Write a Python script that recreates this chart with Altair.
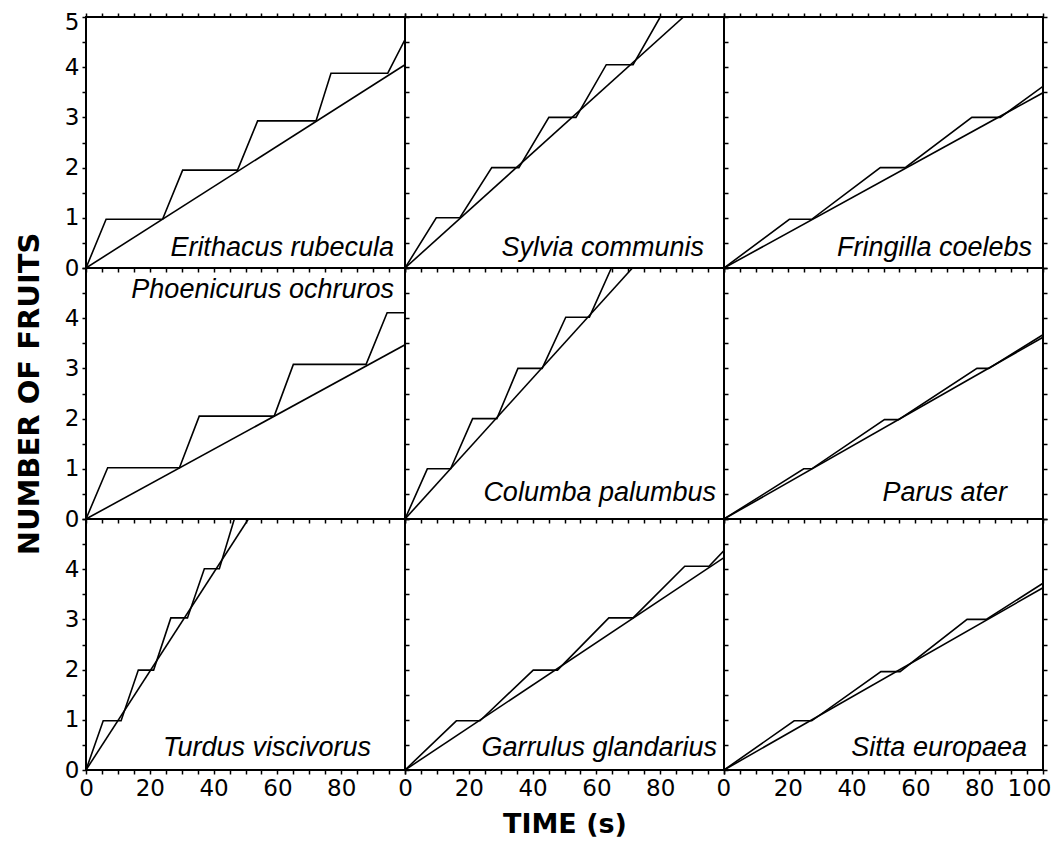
import altair as alt
import pandas as pd

species = ["Erithacus rubecula", "Sylvia communis", "Fringilla coelebs",
           "Phoenicurus ochruros", "Columba palumbus", "Parus ater",
           "Turdus viscivorus", "Garrulus glandarius", "Sitta europaea"]

# cumulative fruit count (step curves), time in s
step_x = [
    [0, 6.3, 24.0, 30.3, 47.5, 53.8, 72.1, 76.8, 94.6, 100],
    [0, 9.8, 17.2, 27.2, 35.7, 45.1, 53.6, 63.1, 71.5, 80.0],
    [0, 20.5, 27.5, 49.0, 56.8, 77.7, 86.6, 100],
    [0, 6.8, 29.3, 35.5, 59.0, 65.0, 87.8, 94.4, 100],
    [0, 7.0, 14.3, 21.2, 28.8, 35.4, 43.0, 50.4, 57.8, 64.7],
    [0, 25.0, 27.5, 50.3, 54.7, 79.3, 83.0, 100],
    [0, 5.4, 11.0, 16.4, 21.2, 26.6, 31.8, 37.1, 41.8, 46.5],
    [0, 16.1, 23.5, 40.2, 47.8, 63.9, 71.5, 87.7, 95.3, 100],
    [0, 22.0, 27.5, 49.2, 55.2, 76.2, 82.2, 100],
]
step_y = [
    [0, 0.97, 0.97, 1.95, 1.95, 2.93, 2.93, 3.88, 3.88, 4.55],
    [0, 1.0, 1.0, 2.0, 2.0, 3.0, 3.0, 4.05, 4.05, 5.0],
    [0, 0.97, 0.97, 2.0, 2.0, 3.0, 3.0, 3.62],
    [0, 1.02, 1.02, 2.05, 2.05, 3.08, 3.08, 4.11, 4.11],
    [0, 1.0, 1.0, 2.0, 2.0, 3.0, 3.0, 4.02, 4.02, 5.0],
    [0, 1.0, 1.0, 1.98, 1.98, 3.0, 3.0, 3.67],
    [0, 0.98, 0.98, 1.99, 1.99, 3.03, 3.03, 4.01, 4.01, 5.0],
    [0, 0.98, 0.98, 1.99, 1.99, 3.03, 3.03, 4.06, 4.06, 4.37],
    [0, 0.98, 0.98, 1.96, 1.96, 3.0, 3.0, 3.72],
]
# straight (constant-rate) line end points, starting at the origin
line_end_x = [100, 87.3, 100, 100, 71.3, 100, 50.9, 100, 100]
line_end_y = [4.05, 5.0, 3.49, 3.47, 5.0, 3.62, 5.0, 4.23, 3.63]

# label layout (pixels): inset from right edge, baseline from bottom (or top)
label_inset = [11, 20, 11, 11, 8, 36, 34, 7, 16]
label_base = [12, 12, 12, 30, 18, 18, 14, 14, 14]
label_top = [False, False, False, True, False, False, False, False, False]

W, H = 319, 251
FONT = "DejaVu Sans"

xscale = alt.Scale(domain=[0, 100], nice=False, zero=False)
yscale = alt.Scale(domain=[0, 5], nice=False, zero=False)
xticks = list(range(0, 101, 5))
yticks = [v / 2 for v in range(0, 11)]


def panel(i):
    r, c = divmod(i, 3)
    df_step = pd.DataFrame({"t": step_x[i], "n": step_y[i]})
    df_line = pd.DataFrame({"t": [0, line_end_x[i]], "n": [0, line_end_y[i]]})
    df_lab = pd.DataFrame({"label": [species[i]]})

    # bottom x axis
    xb_kw = dict(orient="bottom", values=xticks, tickSize=4, labels=(r == 2),
                 title=None)
    if r == 2:
        if c == 2:
            xb_kw["labelExpr"] = "datum.value % 20 == 0 ? '' + datum.value : ''"
            xb_kw["labelFlush"] = True
            xb_kw["labelFlushOffset"] = 8
        else:
            xb_kw["labelExpr"] = ("datum.value % 20 == 0 && datum.value < 100 ? "
                                  "'' + datum.value : ''")
        if c == 1:
            xb_kw["title"] = "TIME (s)"
            xb_kw["titlePadding"] = 11
    xb = alt.Axis(**xb_kw)

    # left y axis (labels only in first column)
    if c == 0:
        yl_kw = dict(orient="left", values=yticks, tickSize=4, title=None)
        if r == 0:
            yl_kw["labelExpr"] = "datum.value % 1 == 0 ? '' + datum.value : ''"
            yl_kw["labelOffset"] = alt.condition("datum.value == 5",
                                                 alt.value(5), alt.value(0))
        else:
            yl_kw["labelExpr"] = ("datum.value % 1 == 0 && datum.value < 5 ? "
                                  "'' + datum.value : ''")
        if r == 1:
            yl_kw["title"] = "NUMBER OF FRUITS"
            yl_kw["titlePadding"] = 20
            yl_kw["titleFontSize"] = 29
        yl = alt.Axis(**yl_kw)
    else:
        yl = None

    xt = alt.Axis(orient="top", values=xticks, tickSize=4, labels=False,
                  title=None) if r == 0 else None
    yr = alt.Axis(orient="right", values=yticks, tickSize=4, labels=False,
                  title=None)

    steps = alt.Chart(df_step).mark_line(color="black", strokeWidth=1.6,
                                         clip=True).encode(
        x=alt.X("t:Q", scale=xscale, axis=xb),
        y=alt.Y("n:Q", scale=yscale, axis=yl),
        order=alt.Order("t:Q"),
    )
    line = alt.Chart(df_line).mark_line(color="black", strokeWidth=1.6,
                                        clip=True).encode(
        x=alt.X("t:Q", scale=xscale, axis=xt),
        y=alt.Y("n:Q", scale=yscale, axis=yr),
    )
    ypos = label_base[i] if label_top[i] else H - label_base[i]
    text = alt.Chart(df_lab).mark_text(
        align="right", baseline="alphabetic", font="Liberation Sans",
        fontStyle="italic", fontSize=27, color="black",
    ).encode(
        x=alt.value(W - label_inset[i]),
        y=alt.value(ypos),
        text="label:N",
    )
    return alt.layer(steps, line, text).resolve_axis(
        x="independent", y="independent"
    ).properties(width=W, height=H)


chart = alt.concat(*[panel(i) for i in range(9)], columns=3, spacing=0,
                   bounds="flush").properties(
    padding={"left": 6, "top": 2, "right": 0, "bottom": 0}
).configure_view(
    stroke="black", strokeWidth=2
).configure_axis(
    domain=False, grid=False, ticks=True, tickColor="black", tickWidth=1.5,
    labelFont=FONT, labelFontSize=23, labelColor="black", labelPadding=3,
    labelFlush=False, labelOverlap=False,
    titleFont=FONT, titleFontWeight="bold", titleFontSize=27, titleColor="black",
)

chart.save("out.html", embed_options={"renderer": "svg", "actions": False})
